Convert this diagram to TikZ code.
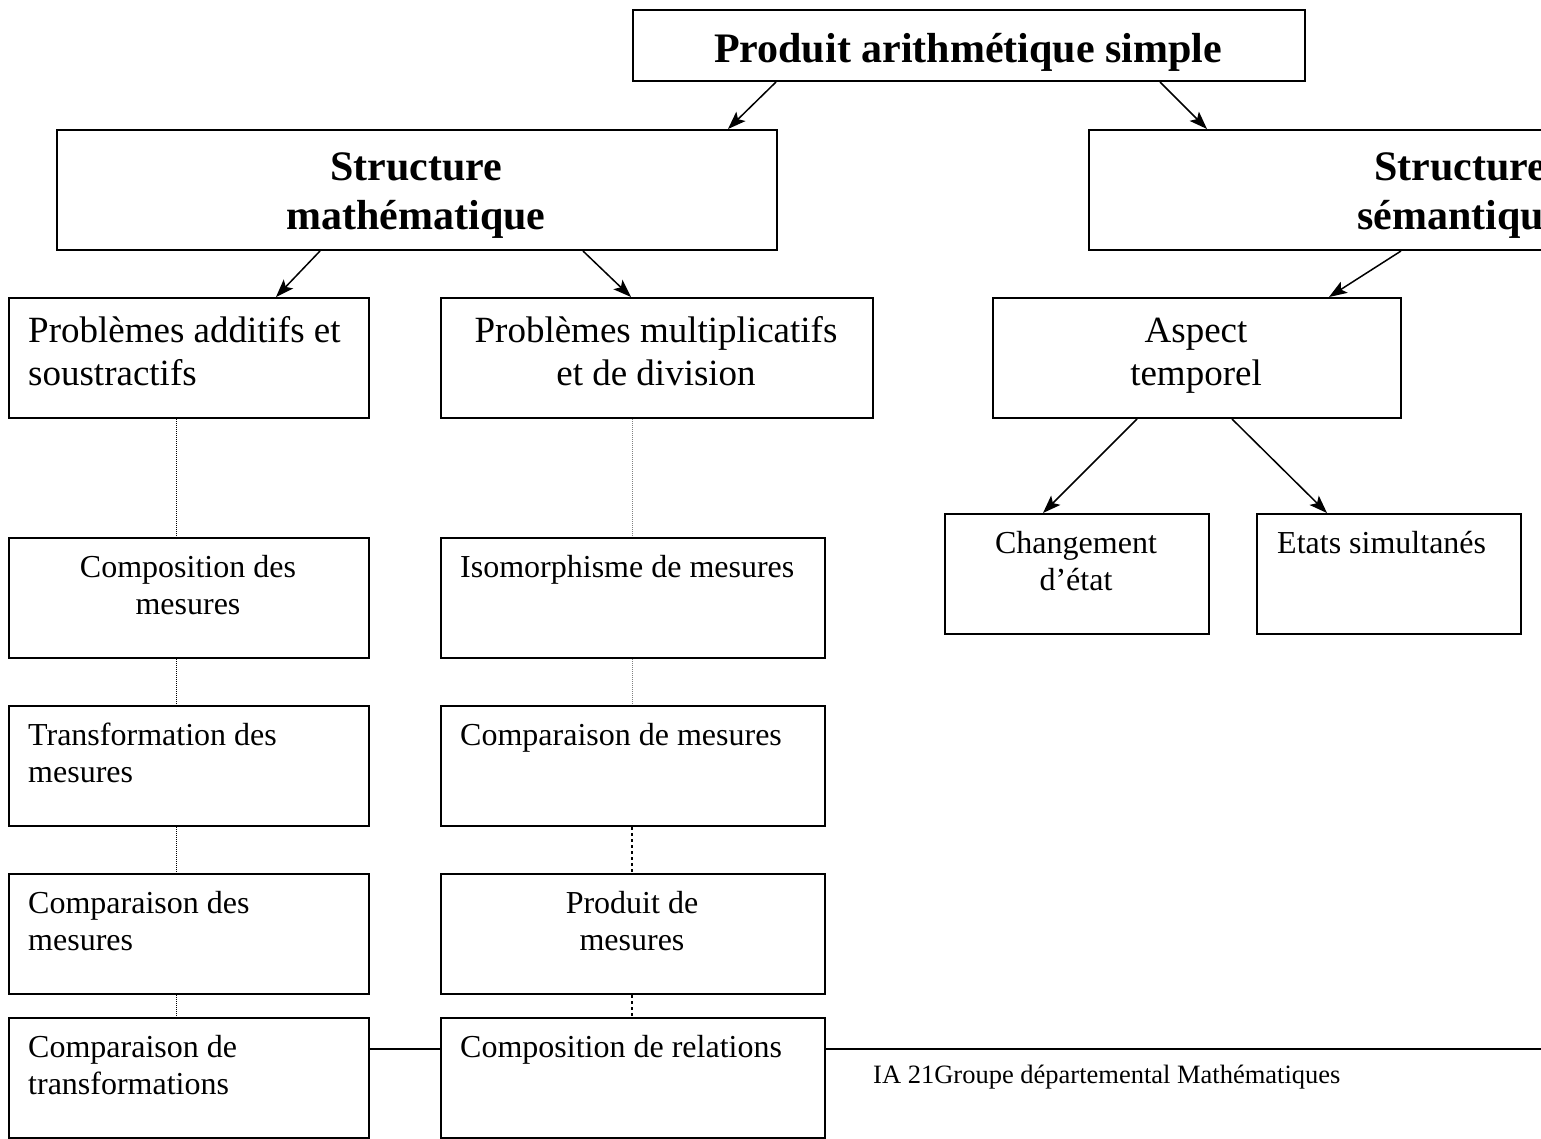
\documentclass[tikz,border=0pt]{standalone}
\usepackage{fontspec}
\setmainfont{Liberation Serif}
\usetikzlibrary{arrows.meta,calc}
\begin{document}
\begin{tikzpicture}[x=1pt,y=-1pt,
  box/.style={draw,line width=2pt,rectangle,inner sep=0pt,anchor=north west,minimum height=120pt},
  bigtxt/.style={font=\fontsize{42}{48}\selectfont\bfseries,inner sep=0pt,anchor=base},
  midtxt/.style={font=\fontsize{37}{43}\selectfont,inner sep=0pt,anchor=base},
  smalltxt/.style={font=\fontsize{32}{37}\selectfont,inner sep=0pt,anchor=base},
  lefttxt/.style={smalltxt,anchor=base west},
  arr/.style={line width=1.5pt,-{Stealth[length=18pt,width=13pt,inset=4pt]}},
  dots/.style={line width=1pt,densely dotted},
  link/.style={line width=2pt}]
\useasboundingbox (0,0) rectangle (1541,1138);
\clip (0,0) rectangle (1541,1138);

% boxes
\node[box,minimum width=672pt,minimum height=71pt] (title) at (632,9) {};
\node[box,minimum width=720pt] (smat) at (56,129) {};
\node[box,minimum width=744pt] (ssem) at (1088,129) {};
\node[box,minimum width=360pt] (padd) at (8,297) {};
\node[box,minimum width=432pt] (pmul) at (440,297) {};
\node[box,minimum width=408pt] (asp) at (992,297) {};
\node[box,minimum width=264pt] (chg) at (944,513) {};
\node[box,minimum width=264pt] (eta) at (1256,513) {};
\node[box,minimum width=360pt] (l1) at (8,537) {};
\node[box,minimum width=360pt] (l2) at (8,705) {};
\node[box,minimum width=360pt] (l3) at (8,873) {};
\node[box,minimum width=360pt] (l4) at (8,1017) {};
\node[box,minimum width=384pt] (r1) at (440,537) {};
\node[box,minimum width=384pt] (r2) at (440,705) {};
\node[box,minimum width=384pt] (r3) at (440,873) {};
\node[box,minimum width=384pt] (r4) at (440,1017) {};

% texts
\node[bigtxt] (t-title) at (968,62) {Produit arithmétique simple};
\node[bigtxt] (t-smat1) at (416,180) {Structure};
\node[bigtxt] (t-smat2) at (416,229) {mathématique};
\node[bigtxt] (t-ssem1) at (1460,180) {Structure};
\node[bigtxt] (t-ssem2) at (1460,229) {sémantique};
\node[midtxt,anchor=base west] (t-padd1) at (28,342) {Problèmes additifs et};
\node[midtxt,anchor=base west] (t-padd2) at (28,385) {soustractifs};
\node[midtxt] (t-pmul1) at (656,342) {Problèmes multiplicatifs};
\node[midtxt] (t-pmul2) at (656,385) {et de division};
\node[midtxt] (t-asp1) at (1196,342) {Aspect};
\node[midtxt] (t-asp2) at (1196,385) {temporel};
\node[smalltxt] (t-chg1) at (1076,553) {Changement};
\node[smalltxt] (t-chg2) at (1076,590) {d’état};
\node[lefttxt] (t-eta) at (1277,553) {Etats simultanés};
\node[smalltxt] (t-l1a) at (188,577) {Composition des};
\node[smalltxt] (t-l1b) at (188,614) {mesures};
\node[lefttxt] (t-l2a) at (28,745) {Transformation des};
\node[lefttxt] (t-l2b) at (28,782) {mesures};
\node[lefttxt] (t-l3a) at (28,913) {Comparaison des};
\node[lefttxt] (t-l3b) at (28,950) {mesures};
\node[lefttxt] (t-l4a) at (28,1057) {Comparaison de};
\node[lefttxt] (t-l4b) at (28,1094) {transformations};
\node[lefttxt] (t-r1) at (460,577) {Isomorphisme de mesures};
\node[lefttxt] (t-r2) at (460,745) {Comparaison de mesures};
\node[smalltxt] (t-r3a) at (632,913) {Produit de};
\node[smalltxt] (t-r3b) at (632,950) {mesures};
\node[lefttxt] (t-r4) at (460,1057) {Composition de relations};
\node[font=\fontsize{26.5}{30}\selectfont,inner sep=0pt,anchor=base west] (footer) at (873,1083) {IA 21Groupe départemental Mathématiques};

% arrows
\draw[arr] ($(title.south west)+(144,0)$) -- ($(smat.north west)+(672,0)$);
\draw[arr] ($(title.south west)+(528,0)$) -- ($(ssem.north west)+(119,0)$);
\draw[arr] ($(smat.south west)+(264,0)$) -- ($(padd.north west)+(268,0)$);
\draw[arr] ($(smat.south west)+(527,0)$) -- ($(pmul.north west)+(191,0)$);
\draw[arr] ($(ssem.south west)+(313,0)$) -- ($(asp.north west)+(337,0)$);
\draw[arr] ($(asp.south west)+(145,0)$) -- ($(chg.north west)+(99,0)$);
\draw[arr] ($(asp.south west)+(240,0)$) -- ($(eta.north west)+(71,0)$);

% dotted links, left column
\draw[dots] ($(padd.south west)+(168,0)$) -- ($(l1.north west)+(168,0)$);
\draw[dots] ($(l1.south west)+(168,0)$) -- ($(l2.north west)+(168,0)$);
\draw[dots] ($(l2.south west)+(168,0)$) -- ($(l3.north west)+(168,0)$);
\draw[dots] ($(l3.south west)+(168,0)$) -- ($(l4.north west)+(168,0)$);
% dotted links, right column
\draw[dots,gray] ($(pmul.south west)+(192,0)$) -- ($(r1.north west)+(192,0)$);
\draw[dots,gray] ($(r1.south west)+(192,0)$) -- ($(r2.north west)+(192,0)$);
\draw[line width=2pt,dash pattern=on 3pt off 3pt] ($(r2.south west)+(192,0)$) -- ($(r3.north west)+(192,0)$);
\draw[line width=2pt,dash pattern=on 3pt off 3pt] ($(r3.south west)+(192,0)$) -- ($(r4.north west)+(192,0)$);

% horizontal links
\coordinate (edge) at (1541,1049);
\draw[link] ($(l4.north east)+(0,32)$) -- ($(r4.north west)+(0,32)$);
\draw[link] ($(r4.north east)+(0,32)$) -- (edge);
\end{tikzpicture}
\end{document}
